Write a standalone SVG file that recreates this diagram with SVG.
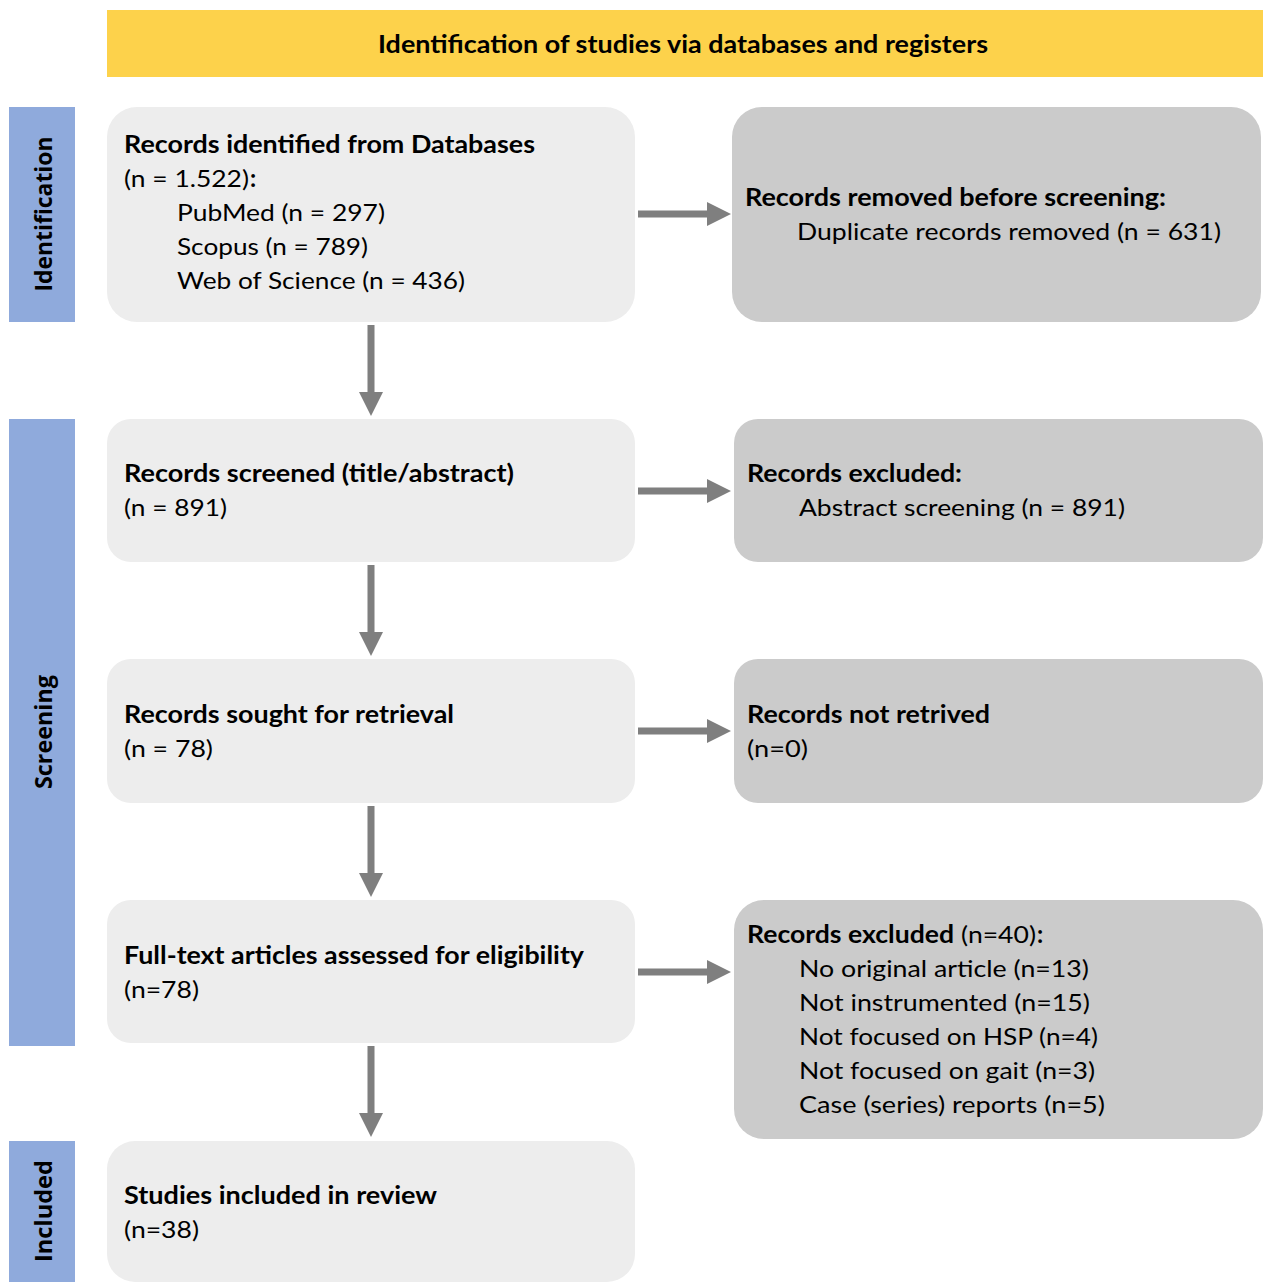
<svg xmlns="http://www.w3.org/2000/svg" width="1263" height="1282" viewBox="0 0 1263 1282">
<style>
.t{font-family:Lato,"Open Sans","Liberation Sans",sans-serif;font-size:24px;fill:#000}
.b{font-weight:bold}
.side{font-family:"Open Sans","Liberation Sans",sans-serif;font-size:23px;font-weight:bold;fill:#000;text-anchor:middle}
.lbox{fill:#EDEDED}
.rbox{fill:#CBCBCB}
.bar{fill:#8FAADC}
.arr{fill:#7F7F7F}
</style>
<rect width="1263" height="1282" fill="#FFFFFF"/>
<g id="banner">
<rect x="107" y="10" width="1156" height="67" fill="#FDD24B"/>
<text class="t b" x="378" y="53" font-size="23" textLength="610" lengthAdjust="spacingAndGlyphs">Identification of studies via databases and registers</text>
</g>
<g id="phase-identification">
<rect class="bar" x="9" y="107" width="66" height="215"/>
<text class="side" transform="translate(52,214) rotate(-90)" textLength="155" lengthAdjust="spacingAndGlyphs">Identification</text>
</g>
<g id="phase-screening">
<rect class="bar" x="9" y="419" width="66" height="627"/>
<text class="side" transform="translate(52,732) rotate(-90)" textLength="114" lengthAdjust="spacingAndGlyphs">Screening</text>
</g>
<g id="phase-included">
<rect class="bar" x="9" y="1141" width="66" height="141"/>
<text class="side" transform="translate(52,1211) rotate(-90)" textLength="102" lengthAdjust="spacingAndGlyphs">Included</text>
</g>
<g id="node-identified">
<rect class="lbox" x="107" y="107" width="528" height="215" rx="30"/>
<text class="t b" x="124" y="153" textLength="411" lengthAdjust="spacingAndGlyphs">Records identified from Databases</text>
<text class="t" x="124" y="187" textLength="125" lengthAdjust="spacingAndGlyphs">(n = 1.522)</text>
<text class="t b" x="250" y="187">:</text>
<text class="t" x="177" y="221" textLength="208" lengthAdjust="spacingAndGlyphs">PubMed (n = 297)</text>
<text class="t" x="177" y="255" textLength="191" lengthAdjust="spacingAndGlyphs">Scopus (n = 789)</text>
<text class="t" x="177" y="289" textLength="288" lengthAdjust="spacingAndGlyphs">Web of Science (n = 436)</text>
</g>
<g id="node-removed">
<rect class="rbox" x="732" y="107" width="529" height="215" rx="30"/>
<text class="t b" x="745" y="206" textLength="421" lengthAdjust="spacingAndGlyphs">Records removed before screening:</text>
<text class="t" x="797" y="240" textLength="424" lengthAdjust="spacingAndGlyphs">Duplicate records removed (n = 631)</text>
</g>
<g id="node-screened">
<rect class="lbox" x="107" y="419" width="528" height="143" rx="24"/>
<text class="t b" x="124" y="482" textLength="390" lengthAdjust="spacingAndGlyphs">Records screened (title/abstract)</text>
<text class="t" x="124" y="516" textLength="103" lengthAdjust="spacingAndGlyphs">(n = 891)</text>
</g>
<g id="node-excluded1">
<rect class="rbox" x="734" y="419" width="529" height="143" rx="24"/>
<text class="t b" x="747" y="482" textLength="215" lengthAdjust="spacingAndGlyphs">Records excluded:</text>
<text class="t" x="799" y="516" textLength="326" lengthAdjust="spacingAndGlyphs">Abstract screening (n = 891)</text>
</g>
<g id="node-sought">
<rect class="lbox" x="107" y="659" width="528" height="144" rx="24"/>
<text class="t b" x="124" y="723" textLength="330" lengthAdjust="spacingAndGlyphs">Records sought for retrieval</text>
<text class="t" x="124" y="757" textLength="89" lengthAdjust="spacingAndGlyphs">(n = 78)</text>
</g>
<g id="node-notretrieved">
<rect class="rbox" x="734" y="659" width="529" height="144" rx="24"/>
<text class="t b" x="747" y="723" textLength="243" lengthAdjust="spacingAndGlyphs">Records not retrived</text>
<text class="t" x="747" y="757" textLength="61" lengthAdjust="spacingAndGlyphs">(n=0)</text>
</g>
<g id="node-fulltext">
<rect class="lbox" x="107" y="900" width="528" height="143" rx="24"/>
<text class="t b" x="124" y="964" textLength="460" lengthAdjust="spacingAndGlyphs">Full-text articles assessed for eligibility</text>
<text class="t" x="124" y="998" textLength="75" lengthAdjust="spacingAndGlyphs">(n=78)</text>
</g>
<g id="node-excluded2">
<rect class="rbox" x="734" y="900" width="529" height="239" rx="30"/>
<text class="t b" x="747" y="943" textLength="207" lengthAdjust="spacingAndGlyphs">Records excluded</text>
<text class="t" x="961" y="943" textLength="75" lengthAdjust="spacingAndGlyphs">(n=40)</text>
<text class="t b" x="1037" y="943">:</text>
<text class="t" x="799" y="977" textLength="290" lengthAdjust="spacingAndGlyphs">No original article (n=13)</text>
<text class="t" x="799" y="1011" textLength="291" lengthAdjust="spacingAndGlyphs">Not instrumented (n=15)</text>
<text class="t" x="799" y="1045" textLength="299" lengthAdjust="spacingAndGlyphs">Not focused on HSP (n=4)</text>
<text class="t" x="799" y="1079" textLength="296" lengthAdjust="spacingAndGlyphs">Not focused on gait (n=3)</text>
<text class="t" x="799" y="1113" textLength="306" lengthAdjust="spacingAndGlyphs">Case (series) reports (n=5)</text>
</g>
<g id="node-included">
<rect class="lbox" x="107" y="1141" width="528" height="141" rx="28"/>
<text class="t b" x="124" y="1204" textLength="313" lengthAdjust="spacingAndGlyphs">Studies included in review</text>
<text class="t" x="124" y="1238" textLength="75" lengthAdjust="spacingAndGlyphs">(n=38)</text>
</g>
<g id="connectors">
<path class="arr" d="M367.5 325 H374.5 V392 H383 L371 416 L359 392 H367.5 Z"/>
<path class="arr" d="M367.5 565 H374.5 V632 H383 L371 656 L359 632 H367.5 Z"/>
<path class="arr" d="M367.5 806 H374.5 V873 H383 L371 897 L359 873 H367.5 Z"/>
<path class="arr" d="M367.5 1046 H374.5 V1113 H383 L371 1137 L359 1113 H367.5 Z"/>
<path class="arr" d="M638 210.5 H707 V202 L731 214 L707 226 V217.5 H638 Z"/>
<path class="arr" d="M638 487.5 H707 V479 L731 491 L707 503 V494.5 H638 Z"/>
<path class="arr" d="M638 727.5 H707 V719 L731 731 L707 743 V734.5 H638 Z"/>
<path class="arr" d="M638 968.5 H707 V960 L731 972 L707 984 V975.5 H638 Z"/>
</g>
</svg>
